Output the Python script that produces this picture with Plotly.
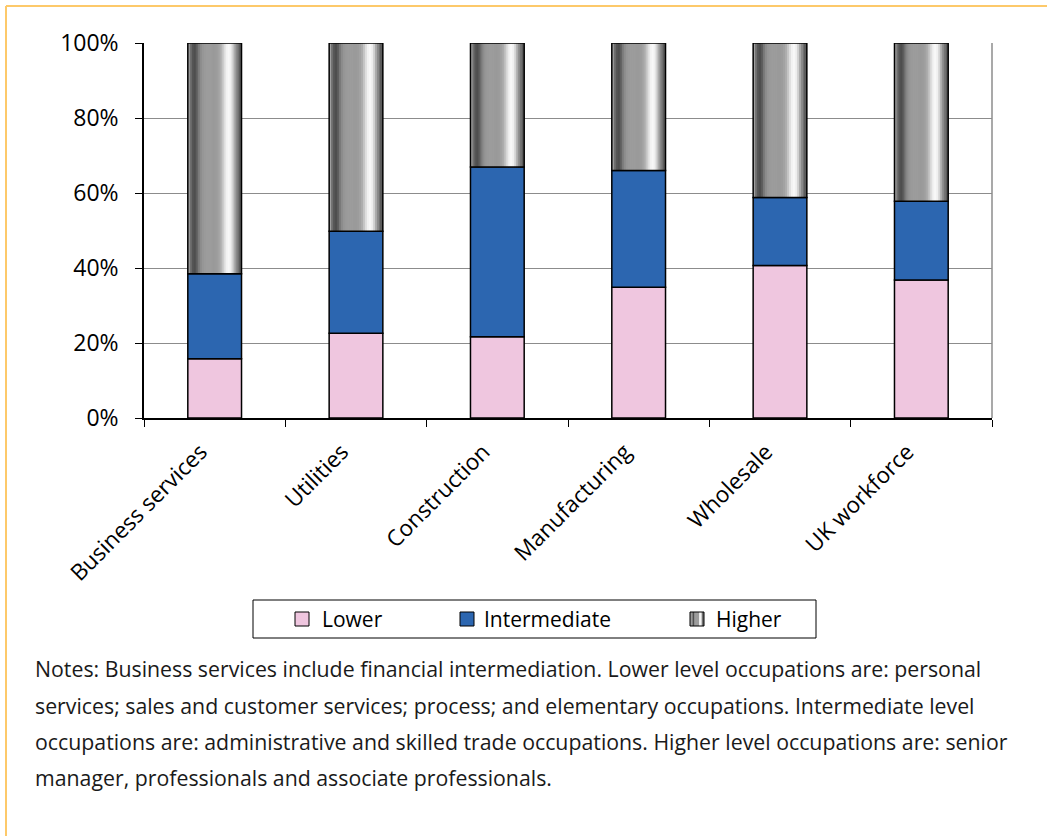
import plotly.graph_objects as go

# Occupational mix by sector (share of employment, %)
sectors = ["Business services", "Utilities", "Construction", "Manufacturing", "Wholesale", "UK workforce"]
lower = [15.8, 22.6, 21.7, 34.9, 40.7, 36.8]
intermediate = [22.7, 27.2, 45.2, 31.1, 18.1, 21.0]
higher = [61.5, 50.2, 33.1, 34.0, 41.2, 42.2]

series_names = ["Lower", "Intermediate", "Higher"]

y_ticks = [0, 20, 40, 60, 80, 100]
y_tick_labels = ["0%", "20%", "40%", "60%", "80%", "100%"]

notes = [
    "Notes: Business services include financial intermediation. Lower level occupations are: personal",
    "services; sales and customer services; process; and elementary occupations. Intermediate level",
    "occupations are: administrative and skilled trade occupations. Higher level occupations are: senior",
    "manager, professionals and associate professionals.",
]

FONT = "Open Sans"
PINK = "#EFC6DF"
BLUE = "#2C66B0"
OUTLINE = dict(color="black", width=1.5)
BAR_W = 0.38

W, H = 1047, 836
ML, MR, MT, MB = 144, 55, 43, 418
PW, PH = W - ML - MR, H - MT - MB


def px_x(px):
    """page pixel column -> paper x"""
    return (px - ML) / PW


def px_y(py):
    """page pixel row -> paper y"""
    return (H - MB - py) / PH


# cylinder-like grey shading across the width of the "Higher" segments
shade = ["#a0a0a0", "#6e6e6e", "#555555", "#4e4e4e", "#5e5e5e", "#7a7a7a", "#8c8c8c",
         "#969696", "#9a9a9a", "#9c9c9c", "#9c9c9c", "#9c9c9c", "#9a9a9a", "#9a9a9a",
         "#9c9c9c", "#a2a2a2", "#adadad", "#c4c4c4", "#dedede", "#f2f2f2", "#f8f8f8",
         "#f0f0f0", "#d4d4d4", "#acacac", "#8a8a8a", "#707070", "#5c5c5c"]

base_inter = lower
base_high = [a + b for a, b in zip(lower, intermediate)]

fig = go.Figure()

fig.add_trace(go.Bar(x=sectors, y=lower, base=[0] * len(sectors), name="Lower",
                     width=BAR_W, marker=dict(color=PINK, line=OUTLINE)))
fig.add_trace(go.Bar(x=sectors, y=intermediate, base=base_inter, name="Intermediate",
                     width=BAR_W, marker=dict(color=BLUE, line=OUTLINE)))

n = len(shade)
strip_w = BAR_W / n
for k, col in enumerate(shade):
    # each strip overlaps the next one so no seams show between them
    w = strip_w * (2.0 if k < n - 1 else 1.0)
    fig.add_trace(go.Bar(x=sectors, y=higher, base=base_high, name="Higher",
                         width=w, offset=-BAR_W / 2 + k * strip_w,
                         marker=dict(color=col, line=dict(width=0)), hoverinfo="skip"))

# outline of the "Higher" segments
fig.add_trace(go.Bar(x=sectors, y=higher, base=base_high, name="Higher", width=BAR_W,
                     marker=dict(color="rgba(0,0,0,0)", line=OUTLINE)))

fig.update_layout(
    barmode="overlay",
    width=W, height=H,
    margin=dict(l=ML, r=MR, t=MT, b=MB),
    paper_bgcolor="white", plot_bgcolor="white",
    font=dict(family=FONT, color="black", size=22),
    showlegend=False,
    xaxis=dict(type="category", tickson="boundaries", ticks="outside", ticklen=7,
               tickcolor="black", showline=True, linecolor="black", linewidth=1.5,
               tickangle=-45, tickfont=dict(size=22.5), ticklabelstandoff=10,
               ticklabelshift=-14, showgrid=False),
    yaxis=dict(range=[0, 100], tickvals=y_ticks, ticktext=y_tick_labels, ticks="outside",
               ticklen=7, tickcolor="black", showline=True, linecolor="black", linewidth=1.5,
               showgrid=True, gridcolor="#8c8c8c", gridwidth=1, zeroline=False,
               tickfont=dict(size=23), ticklabelstandoff=12),
)

# right-hand frame of the plot area
fig.add_shape(type="line", xref="paper", yref="paper", x0=1, x1=1, y0=0, y1=1,
              line=dict(color="#8c8c8c", width=1.5))

# page frame (top and left edges)
FRAME = "#FDC96A"
fig.add_shape(type="line", xref="paper", yref="paper", x0=px_x(6), x1=px_x(1060),
              y0=px_y(6), y1=px_y(6), line=dict(color=FRAME, width=2))
fig.add_shape(type="line", xref="paper", yref="paper", x0=px_x(6), x1=px_x(6),
              y0=px_y(6), y1=px_y(850), line=dict(color=FRAME, width=2))

# legend box with swatches
fig.add_shape(type="rect", xref="paper", yref="paper", x0=px_x(253), x1=px_x(816),
              y0=px_y(600), y1=px_y(638), line=dict(color="black", width=1),
              fillcolor="white")
sw_left = [295, 460, 690]
txt_left = [320, 482, 714]
sw_top, sw_size = 612, 14
fig.add_shape(type="rect", xref="paper", yref="paper", x0=px_x(sw_left[0]),
              x1=px_x(sw_left[0] + sw_size), y0=px_y(sw_top), y1=px_y(sw_top + sw_size),
              line=dict(color="black", width=1), fillcolor=PINK)
fig.add_shape(type="rect", xref="paper", yref="paper", x0=px_x(sw_left[1]),
              x1=px_x(sw_left[1] + sw_size), y0=px_y(sw_top), y1=px_y(sw_top + sw_size),
              line=dict(color="black", width=1), fillcolor=BLUE)
sw_shade = ["#9a9a9a", "#505050", "#9c9c9c", "#9c9c9c", "#f4f4f4", "#707070"]
sub = sw_size / len(sw_shade)
for k, col in enumerate(sw_shade):
    fig.add_shape(type="rect", xref="paper", yref="paper",
                  x0=px_x(sw_left[2] + k * sub), x1=px_x(sw_left[2] + (k + 1) * sub),
                  y0=px_y(sw_top), y1=px_y(sw_top + sw_size), line=dict(width=0),
                  fillcolor=col)
fig.add_shape(type="rect", xref="paper", yref="paper", x0=px_x(sw_left[2]),
              x1=px_x(sw_left[2] + sw_size), y0=px_y(sw_top), y1=px_y(sw_top + sw_size),
              line=dict(color="black", width=1), fillcolor="rgba(0,0,0,0)")
for name, tx in zip(series_names, txt_left):
    fig.add_annotation(text=name, xref="paper", yref="paper", x=px_x(tx), y=px_y(619),
                       xanchor="left", yanchor="middle", showarrow=False,
                       font=dict(family=FONT, size=21, color="black"))

line_px = [668, 705, 741, 777]
for txt, ypx in zip(notes, line_px):
    fig.add_annotation(text=txt, xref="paper", yref="paper", x=px_x(33),
                       y=px_y(ypx), xanchor="left", yanchor="middle", showarrow=False,
                       font=dict(family=FONT, size=21.3, color="#1a1a1a"), align="left")

fig.write_html("out.html")
